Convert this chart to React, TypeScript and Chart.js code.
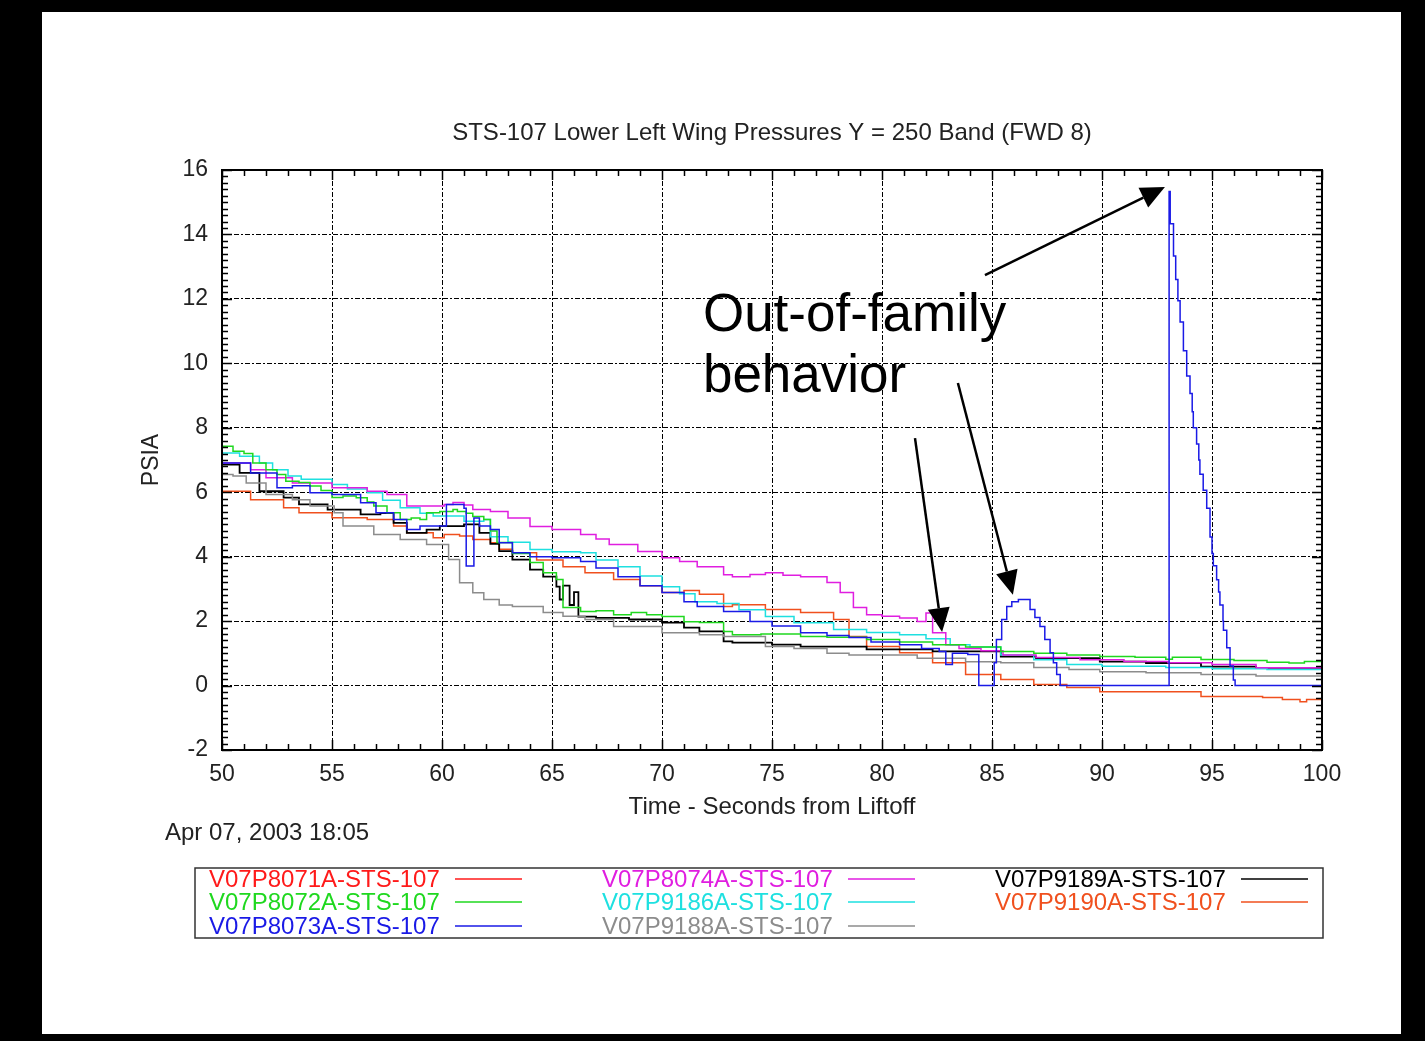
import React, { useEffect, useRef } from "react";
import { Chart, registerables } from "chart.js";

Chart.register(...registerables);

const FONT = '"Liberation Sans", Arial, Helvetica, sans-serif';

const chartTitle = "STS-107 Lower Left Wing Pressures Y = 250 Band (FWD 8)";
const xAxisTitle = "Time - Seconds from Liftoff";
const yAxisTitle = "PSIA";
const timestampText = "Apr 07, 2003 18:05";
const annotationLines = ["Out-of-family", "behavior"];

const xMin = 50;
const xMax = 100;
const xMajorStep = 5;
const xMinorStep = 1;
const yMin = -2;
const yMax = 16;
const yMajorStep = 2;
const yMinorStep = 0.2;

const seriesLabels = [
  "V07P8071A-STS-107",
  "V07P8072A-STS-107",
  "V07P8073A-STS-107",
  "V07P8074A-STS-107",
  "V07P9186A-STS-107",
  "V07P9188A-STS-107",
  "V07P9189A-STS-107",
  "V07P9190A-STS-107",
];
const seriesColors = [
  "#ff1a1a",
  "#1fd81f",
  "#1a1ae6",
  "#e01ee0",
  "#1ee0e0",
  "#8c8c8c",
  "#000000",
  "#f0501e",
];

// [time (s), pressure (psia)] — step data
const v07p8071a: [number, number][] = [];

const v07p8072a: [number, number][] = [
  [50.0, 7.43], [50.5, 7.27], [51.0, 7.2], [51.4, 6.91], [52.0, 6.7], [52.5, 6.55], [52.9, 6.34],
  [53.5, 6.3], [54.0, 6.19], [54.5, 6.05], [55.0, 5.84], [55.5, 5.88], [56.1, 5.83], [56.6, 5.7],
  [56.9, 5.57], [57.5, 5.36], [58.1, 5.15], [58.6, 5.2], [59.0, 5.15], [59.3, 5.36], [59.9, 5.4],
  [60.5, 5.46], [60.7, 5.4], [61.1, 5.35], [61.4, 5.25], [61.9, 5.15], [62.2, 4.8], [62.5, 4.44],
  [63.2, 4.1], [64.0, 3.82], [64.6, 3.5], [65.2, 3.29], [65.5, 2.42], [66.3, 2.3], [67.0, 2.32],
  [67.8, 2.2], [68.6, 2.27], [69.3, 2.2], [70.0, 2.14], [71.0, 1.98], [71.7, 1.96], [72.8, 1.68],
  [73.2, 1.58], [74.5, 1.6], [76.3, 1.52], [77.5, 1.5], [79.3, 1.43], [80.8, 1.35], [82.3, 1.27],
  [83.8, 1.2], [85.4, 1.06], [86.9, 1.0], [88.4, 0.95], [89.9, 0.9], [91.5, 0.88], [92.9, 0.82],
  [93.2, 0.88], [94.5, 0.81], [96.0, 0.78], [97.5, 0.72], [98.5, 0.7], [99.2, 0.75], [100, 0.65],
];

const v07p8073a: [number, number][] = [
  [50.0, 6.91], [51.3, 6.6], [52.5, 6.14], [53.2, 6.2], [54.0, 5.98], [55.0, 5.93], [56.3, 5.67],
  [57.0, 5.36], [57.8, 5.15], [58.4, 4.84], [59.0, 4.95], [60.2, 5.62], [60.7, 5.62], [61.0, 5.5],
  [61.1, 3.71], [61.45, 5.2], [61.7, 4.95], [62.2, 4.84], [62.6, 4.43], [63.2, 4.12], [64.0, 4.0],
  [65.0, 3.97], [66.3, 3.85], [67.0, 3.65], [68.0, 3.38], [69.0, 3.1], [70.0, 2.89], [71.0, 2.6],
  [71.6, 2.45], [72.8, 2.3], [74.0, 1.99], [75.0, 1.85], [76.3, 1.64], [77.5, 1.55], [78.5, 1.49],
  [79.5, 1.35], [80.8, 1.27], [81.8, 1.15], [82.6, 1.06], [82.9, 0.65], [83.2, 1.0], [83.9, 0.96],
  [84.4, 0.0], [85.1, 0.71], [85.2, 1.43], [85.44, 2.05], [85.67, 2.45], [85.9, 2.6], [86.2, 2.67],
  [86.5, 2.67], [86.73, 2.36], [86.95, 2.11], [87.18, 1.83], [87.4, 1.43], [87.64, 1.02],
  [87.79, 0.71], [87.94, 0.34], [88.1, 0.0], [93.05, 15.33], [93.1, 14.33], [93.25, 13.33],
  [93.35, 12.6], [93.45, 11.94], [93.55, 11.28], [93.7, 10.39], [93.85, 9.61], [94.0, 9.06],
  [94.1, 8.5], [94.15, 8.0], [94.3, 7.5], [94.4, 7.0], [94.45, 6.56], [94.6, 6.06], [94.76, 5.5],
  [94.91, 4.61], [95.0, 4.1], [95.06, 3.72], [95.21, 3.28], [95.3, 2.9], [95.36, 2.5], [95.5, 2.0],
  [95.52, 1.72], [95.67, 1.17], [95.82, 0.61], [95.97, 0.17], [96.05, 0.0], [100, 0.0],
];

const v07p8074a: [number, number][] = [
  [50.0, 6.91], [51.3, 6.7], [52.0, 6.45], [53.2, 6.29], [55.0, 6.14], [56.6, 6.03], [57.5, 5.93],
  [58.4, 5.57], [59.6, 5.57], [60.1, 5.62], [60.5, 5.68], [61.0, 5.6], [61.4, 5.46], [62.2, 5.4],
  [63.0, 5.2], [64.0, 4.94], [65.0, 4.84], [66.3, 4.69], [67.0, 4.55], [67.6, 4.38], [68.9, 4.16],
  [70.0, 3.97], [70.8, 3.85], [71.6, 3.69], [72.8, 3.44], [73.2, 3.38], [74.0, 3.45], [74.7, 3.5],
  [75.5, 3.42], [76.3, 3.38], [77.5, 3.2], [78.1, 2.89], [78.7, 2.42], [79.3, 2.2], [80.0, 2.15],
  [80.8, 2.1], [81.6, 1.99], [82.0, 2.25], [82.3, 1.64], [82.9, 1.27], [83.5, 1.15], [84.5, 1.08],
  [85.5, 0.95], [87.0, 0.87], [89.0, 0.8], [91.0, 0.75], [93.0, 0.71], [95.0, 0.65], [97.0, 0.55],
  [100, 0.5],
];

const v07p9186a: [number, number][] = [
  [50.0, 7.22], [50.8, 7.12], [51.7, 6.91], [52.3, 6.7], [53.0, 6.5], [53.6, 6.4], [55.0, 6.24],
  [55.7, 6.1], [56.6, 5.98], [57.3, 5.75], [58.1, 5.52], [59.0, 5.35], [59.6, 5.26], [60.5, 5.26],
  [61.0, 5.1], [61.9, 5.15], [62.2, 4.62], [63.0, 4.45], [64.0, 4.22], [65.0, 4.15], [66.3, 4.12],
  [67.0, 3.9], [68.0, 3.69], [69.0, 3.4], [70.0, 3.07], [70.8, 2.85], [71.5, 2.6], [72.5, 2.55],
  [73.5, 2.35], [74.7, 2.14], [76.0, 1.95], [77.8, 1.74], [79.3, 1.65], [80.8, 1.58], [82.0, 1.45],
  [83.1, 1.27], [84.0, 1.2], [85.4, 0.95], [86.9, 0.8], [88.4, 0.65], [90.0, 0.6], [92.9, 0.56],
  [95.0, 0.52], [97.5, 0.5], [100, 0.43],
];

const v07p9188a: [number, number][] = [
  [50.0, 6.55], [50.5, 6.5], [51.1, 6.29], [52.0, 5.93], [53.2, 5.77], [54.0, 5.57], [55.1, 5.36],
  [55.5, 4.95], [56.3, 4.95], [56.9, 4.69], [58.1, 4.53], [59.3, 4.38], [60.1, 4.38], [60.3, 3.91],
  [60.8, 3.19], [61.4, 2.88], [61.9, 2.67], [62.6, 2.5], [63.2, 2.45], [64.6, 2.27], [65.5, 2.15],
  [66.5, 2.05], [67.8, 1.83], [70.0, 1.64], [71.7, 1.58], [72.8, 1.52], [74.7, 1.21], [76.0, 1.15],
  [77.5, 1.0], [78.5, 0.95], [80.0, 0.95], [81.6, 0.85], [83.8, 0.74], [85.4, 0.71], [86.9, 0.56],
  [88.5, 0.5], [89.9, 0.43], [92.0, 0.4], [94.5, 0.34], [97.0, 0.3], [100, 0.28],
];

const v07p9189a: [number, number][] = [
  [50.0, 6.86], [50.8, 6.6], [51.7, 6.03], [52.8, 5.83], [53.5, 5.62], [54.8, 5.46], [56.3, 5.31],
  [57.2, 5.35], [57.8, 5.05], [58.4, 4.74], [59.3, 4.84], [59.9, 4.95], [61.0, 5.0], [61.7, 4.74],
  [62.2, 4.4], [62.6, 4.17], [63.2, 3.91], [64.0, 3.6], [64.6, 3.38], [65.2, 3.07], [65.35, 2.67],
  [65.5, 3.1], [65.8, 2.5], [66.0, 2.9], [66.2, 2.14], [67.0, 2.1], [68.5, 2.05], [70.0, 1.95],
  [71.0, 1.8], [71.7, 1.68], [72.8, 1.37], [73.2, 1.33], [75.0, 1.27], [76.3, 1.21], [79.3, 1.12],
  [80.8, 1.12], [82.3, 1.06], [85.4, 0.9], [87.0, 0.85], [89.9, 0.74], [92.0, 0.7], [94.5, 0.59],
  [97.0, 0.55], [100, 0.5],
];

const v07p9190a: [number, number][] = [
  [50.0, 6.03], [51.3, 5.77], [52.8, 5.52], [53.5, 5.36], [55.0, 5.21], [56.6, 5.15], [57.8, 4.95],
  [58.4, 4.74], [59.6, 4.59], [60.1, 4.69], [60.8, 4.64], [61.4, 4.53], [62.2, 4.43], [62.6, 4.23],
  [63.2, 4.12], [64.3, 3.9], [65.5, 3.69], [66.5, 3.5], [67.8, 3.29], [69.0, 3.1], [70.0, 2.89],
  [71.0, 2.95], [71.7, 2.83], [72.8, 2.45], [73.2, 2.51], [74.7, 2.36], [76.3, 2.27], [77.8, 2.05],
  [78.5, 1.52], [79.3, 1.21], [80.8, 1.02], [82.3, 0.71], [83.8, 0.34], [85.4, 0.19], [86.9, 0.03],
  [88.4, -0.06], [89.9, -0.19], [93.1, -0.19], [94.5, -0.34], [97.3, -0.37], [98.2, -0.43],
  [99.0, -0.5], [99.3, -0.43], [100, -0.5],
];

const seriesData = [
  v07p8071a, v07p8072a, v07p8073a, v07p8074a, v07p9186a, v07p9188a, v07p9189a, v07p9190a,
];

// annotation arrows in data coordinates: [tailT, tailV, tipT, tipV]
const arrows: [number, number, number, number][] = [
  [84.68, 12.74, 92.86, 15.47],
  [83.45, 9.39, 85.95, 2.82],
  [81.5, 7.68, 82.73, 1.66],
];
const annotationAnchor: [number, number] = [71.86, 11.0];

const legendColumns = [[0, 1, 2], [3, 4, 5], [6, 7]];

const decorPlugin = {
  id: "decor",
  afterDraw(chart: any) {
    const { ctx, chartArea: a, scales } = chart;
    const xs = scales.x;
    const ys = scales.y;
    ctx.save();

    // frame
    ctx.strokeStyle = "#000";
    ctx.lineWidth = 2;
    ctx.strokeRect(a.left, a.top, a.right - a.left, a.bottom - a.top);

    // minor / major ticks on all four sides
    ctx.lineWidth = 1.5;
    ctx.beginPath();
    const nx = Math.round((xMax - xMin) / xMinorStep);
    for (let i = 0; i <= nx; i++) {
      const v = xMin + i * xMinorStep;
      const px = Math.round(xs.getPixelForValue(v)) + 0.5;
      const major = Math.abs((v - xMin) % xMajorStep) < 1e-6;
      const len = major ? 10 : 6;
      ctx.moveTo(px, a.bottom);
      ctx.lineTo(px, a.bottom - len);
      ctx.moveTo(px, a.top);
      ctx.lineTo(px, a.top + len);
    }
    const ny = Math.round((yMax - yMin) / yMinorStep);
    for (let i = 0; i <= ny; i++) {
      const v = yMin + i * yMinorStep;
      const py = Math.round(ys.getPixelForValue(v)) + 0.5;
      const major = i % Math.round(yMajorStep / yMinorStep) === 0;
      const len = major ? 10 : 6;
      ctx.moveTo(a.left, py);
      ctx.lineTo(a.left + len, py);
      ctx.moveTo(a.right, py);
      ctx.lineTo(a.right - len, py);
    }
    ctx.stroke();

    // title
    ctx.fillStyle = "#222";
    ctx.font = `24px ${FONT}`;
    ctx.textAlign = "center";
    ctx.textBaseline = "middle";
    ctx.fillText(chartTitle, (a.left + a.right) / 2, a.top - 37);

    // timestamp
    ctx.textAlign = "left";
    ctx.fillText(timestampText, a.left - 57, a.bottom + 83);

    // legend box
    const bx = a.left - 27;
    const by = a.bottom + 118;
    const bw = a.right + 1 - bx;
    const bh = 70;
    ctx.strokeStyle = "#333";
    ctx.lineWidth = 1.5;
    ctx.strokeRect(bx, by, bw, bh);
    const colX = [14, 407, 800];
    const rowY = [11, 34, 58];
    ctx.font = `24px ${FONT}`;
    legendColumns.forEach((col, ci) => {
      col.forEach((si, ri) => {
        const tx = bx + colX[ci];
        const ty = by + rowY[ri];
        const ds = chart.data.datasets[si];
        ctx.fillStyle = ds.borderColor;
        ctx.textAlign = "left";
        ctx.fillText(ds.label, tx, ty + 1);
        ctx.strokeStyle = ds.borderColor;
        ctx.lineWidth = 1.5;
        ctx.beginPath();
        ctx.moveTo(tx + 246, ty);
        ctx.lineTo(tx + 313, ty);
        ctx.stroke();
      });
    });

    // annotation text
    ctx.fillStyle = "#000";
    ctx.font = `53px ${FONT}`;
    ctx.textAlign = "left";
    ctx.textBaseline = "alphabetic";
    const ax = xs.getPixelForValue(annotationAnchor[0]);
    const ay = ys.getPixelForValue(annotationAnchor[1]);
    ctx.fillText(annotationLines[0], ax, ay);
    ctx.fillText(annotationLines[1], ax, ay + 61);

    // arrows
    arrows.forEach(([t0, v0, t1, v1]) => {
      const x0 = xs.getPixelForValue(t0);
      const y0 = ys.getPixelForValue(v0);
      const x1 = xs.getPixelForValue(t1);
      const y1 = ys.getPixelForValue(v1);
      const ang = Math.atan2(y1 - y0, x1 - x0);
      const hl = 24;
      const hw = 11;
      const bxh = x1 - hl * Math.cos(ang);
      const byh = y1 - hl * Math.sin(ang);
      ctx.strokeStyle = "#000";
      ctx.lineWidth = 2.5;
      ctx.beginPath();
      ctx.moveTo(x0, y0);
      ctx.lineTo(bxh, byh);
      ctx.stroke();
      ctx.fillStyle = "#000";
      ctx.beginPath();
      ctx.moveTo(x1, y1);
      ctx.lineTo(bxh + hw * Math.sin(ang), byh - hw * Math.cos(ang));
      ctx.lineTo(bxh - hw * Math.sin(ang), byh + hw * Math.cos(ang));
      ctx.closePath();
      ctx.fill();
    });

    ctx.restore();
  },
};

export default function App() {
  const canvasRef = useRef<HTMLCanvasElement | null>(null);

  useEffect(() => {
    const canvas = canvasRef.current;
    if (!canvas) return;
    const datasets = seriesLabels.map((label, i) => ({
      label,
      data: seriesData[i].map(([x, y]) => ({ x, y })),
      borderColor: seriesColors[i],
      backgroundColor: seriesColors[i],
      borderWidth: i === 6 ? 1.8 : 1.5,
      pointRadius: 0,
      stepped: true,
      fill: false,
      order: i === 2 ? 0 : 1,
    }));
    const chart = new Chart(canvas, {
      type: "line",
      data: { datasets },
      options: {
        responsive: false,
        animation: false,
        devicePixelRatio: 1,
        layout: { padding: { left: 138, top: 170, right: 103, bottom: 219 } },
        plugins: {
          legend: { display: false },
          title: { display: false },
          tooltip: { enabled: false },
        },
        scales: {
          x: {
            type: "linear",
            min: xMin,
            max: xMax,
            afterFit: (s: any) => {
              s.height = 72;
            },
            ticks: {
              stepSize: xMajorStep,
              padding: 11,
              color: "#222",
              font: { family: FONT, size: 23 },
            },
            grid: { color: "#000", lineWidth: 1, drawTicks: false },
            border: { display: true, color: "#000", width: 2, dash: [5, 2, 2, 2] },
            title: {
              display: true,
              text: xAxisTitle,
              color: "#222",
              font: { family: FONT, size: 24 },
              padding: { top: 0, bottom: 0 },
            },
          },
          y: {
            type: "linear",
            min: yMin,
            max: yMax,
            afterFit: (s: any) => {
              s.width = 84;
            },
            ticks: {
              stepSize: yMajorStep,
              padding: 14,
              color: "#222",
              font: { family: FONT, size: 23 },
            },
            grid: { color: "#000", lineWidth: 1, drawTicks: false },
            border: { display: true, color: "#000", width: 2, dash: [5, 2, 2, 2] },
            title: {
              display: true,
              text: yAxisTitle,
              color: "#222",
              font: { family: FONT, size: 23 },
              padding: { top: 0, bottom: 0 },
            },
          },
        },
      },
      plugins: [decorPlugin],
    } as any);
    return () => chart.destroy();
  }, []);

  return (
    <div style={{ position: "fixed", left: 0, top: 0, width: 1425, height: 1041, background: "#000", overflow: "hidden" }}>
      <div style={{ position: "absolute", left: 42, top: 12, width: 1359, height: 1022, background: "#fff" }} />
      <canvas
        ref={canvasRef}
        width={1425}
        height={1041}
        style={{ position: "absolute", left: 0, top: 0, width: 1425, height: 1041, display: "block" }}
      />
    </div>
  );
}
